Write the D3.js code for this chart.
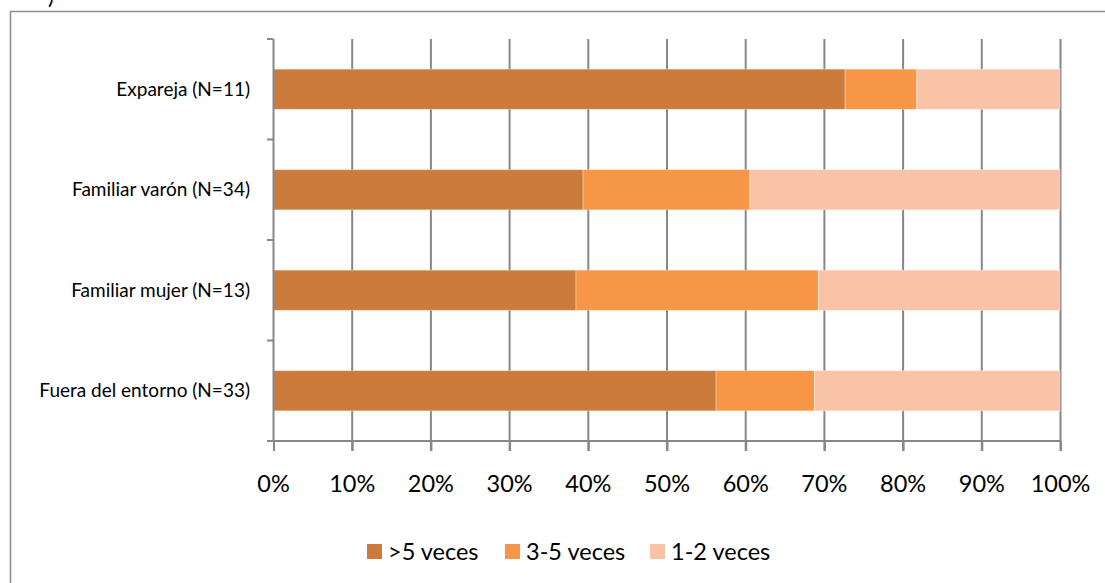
<!DOCTYPE html>
<html>
<head>
<meta charset="utf-8">
<script src="https://cdn.jsdelivr.net/npm/d3@7"></script>
<style>
  body { margin: 0; background: #fff; }
  svg { display: block; font-family: Lato, "Open Sans", sans-serif; }
</style>
</head>
<body>
<svg id="chart" width="1105" height="583"></svg>
<script>
// data (percent of each group)
var categories = ['Expareja (N=11)', 'Familiar varón (N=34)', 'Familiar mujer (N=13)', 'Fuera del entorno (N=33)'];
var seriesNames = ['>5 veces', '3-5 veces', '1-2 veces'];
var mas5 = [72.7, 39.4, 38.5, 56.3];
var de3a5 = [9.1, 21.2, 30.8, 12.5];
var de1a2 = [18.2, 39.4, 30.7, 31.2];
var xTicks = [0, 10, 20, 30, 40, 50, 60, 70, 80, 90, 100];
var colors = ['#cd7b3a', '#f79646', '#f9c3a8'];

var svg = d3.select('#chart');

// outer frame of the chart object
svg.append('rect')
    .attr('x', 10.5).attr('y', 11.5)
    .attr('width', 1110).attr('height', 600)
    .attr('fill', 'none').attr('stroke', '#8c8c8c').attr('stroke-width', 1.5);

// leftover caption char cut by the crop
svg.append('text').attr('x', 48).attr('y', 4)
    .attr('font-size', 22).attr('fill', '#000').text(')');

var plotL = 273, plotR = 1060, plotT = 39, plotB = 441;

var x = d3.scaleLinear().domain([0, 100]).range([plotL, plotR]);
var y = d3.scaleBand().domain(categories).range([plotT, plotB]).paddingInner(0.6).paddingOuter(0.3);

// table for stacking
var rows = categories.map(function(c, i) {
    return { cat: c, s0: mas5[i], s1: de3a5[i], s2: de1a2[i] };
});
var stack = d3.stack().keys(['s0', 's1', 's2'])(rows);

// vertical gridlines
svg.append('g').selectAll('line').data(xTicks.slice(1)).enter().append('line')
    .attr('x1', function(d) { return x(d) + 0.5; })
    .attr('x2', function(d) { return x(d) + 0.5; })
    .attr('y1', plotT).attr('y2', plotB + 10)
    .attr('stroke', '#878787').attr('stroke-width', 2);

// bars
stack.forEach(function(layer, k) {
    svg.append('g').selectAll('rect').data(layer).enter().append('rect')
        .attr('x', function(d) { return x(d[0]); })
        .attr('width', function(d) { return x(d[1]) - x(d[0]); })
        .attr('y', function(d) { return y(d.data.cat); })
        .attr('height', y.bandwidth())
        .attr('fill', colors[k])
        .attr('stroke', 'rgba(255,255,255,0.35)').attr('stroke-width', 1);
});

// y axis with ticks between categories
var yAxis = svg.append('g');
yAxis.append('line')
    .attr('x1', plotL + 0.5).attr('x2', plotL + 0.5)
    .attr('y1', plotT).attr('y2', plotB)
    .attr('stroke', '#878787').attr('stroke-width', 2);
var step = (plotB - plotT) / categories.length;
yAxis.selectAll('.yt').data(d3.range(categories.length + 1)).enter().append('line')
    .attr('x1', plotL - 6).attr('x2', plotL)
    .attr('y1', function(i) { return plotT + i * step; })
    .attr('y2', function(i) { return plotT + i * step; })
    .attr('stroke', '#878787').attr('stroke-width', 2);
yAxis.selectAll('text').data(categories).enter().append('text')
    .attr('x', 250)
    .attr('y', function(d) { return y(d) + y.bandwidth() / 2; })
    .attr('dy', '0.35em')
    .attr('text-anchor', 'end')
    .attr('font-size', 19).attr('fill', '#000')
    .text(function(d) { return d; });

// x axis
var xAxis = svg.append('g').attr('transform', 'translate(0,' + plotB + ')')
    .call(d3.axisBottom(x).tickValues(xTicks).tickSize(10).tickPadding(24)
        .tickFormat(function(d) { return d + '%'; }));
xAxis.select('.domain').remove();
xAxis.append('line').attr('x1', plotL - 6).attr('x2', plotR + 1)
    .attr('stroke', '#878787').attr('stroke-width', 2);
xAxis.selectAll('.tick line').attr('stroke', '#878787').attr('stroke-width', 2)
    .attr('transform', 'translate(0.5,0)');
xAxis.selectAll('.tick text').attr('font-size', 23.5).attr('fill', '#000')
    .attr('font-family', 'Lato, "Open Sans", sans-serif');

// legend
var legendX = [367, 505, 650];
var legend = svg.append('g').selectAll('g').data(seriesNames).enter().append('g')
    .attr('transform', function(d, i) { return 'translate(' + legendX[i] + ',544)'; });
legend.append('rect').attr('width', 15).attr('height', 15)
    .attr('fill', function(d, i) { return colors[i]; });
legend.append('text').attr('x', 21).attr('y', 8).attr('dy', '0.35em')
    .attr('font-size', 23.5).attr('fill', '#000')
    .text(function(d) { return d; });
</script>
</body>
</html>
